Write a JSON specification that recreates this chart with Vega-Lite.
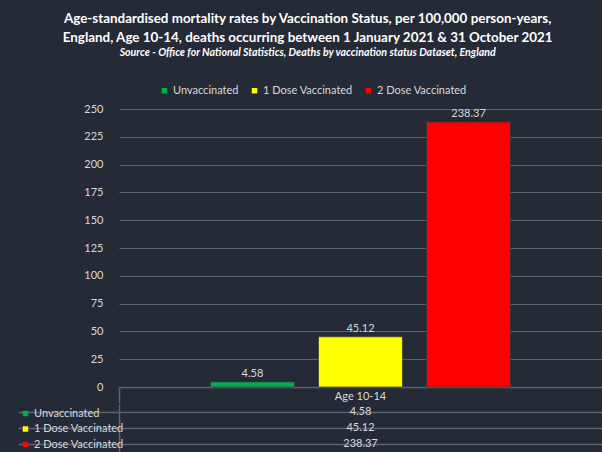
{
  "$schema": "https://vega.github.io/schema/vega-lite/v6.json",
  "width": 483,
  "height": 278,
  "autosize": {"type": "none"},
  "padding": {"left": 119, "top": 109, "right": 0, "bottom": 65},
  "background": "#242b36",
  "title": {
    "text": ["Age-standardised mortality rates by Vaccination Status, per 100,000 person-years,", "England, Age 10-14, deaths occurring between 1 January 2021 & 31 October 2021"],
    "subtitle": "Source - Office for National Statistics, Deaths by vaccination status Dataset, England",
    "color": "#ffffff",
    "subtitleColor": "#ffffff",
    "font": "Lato",
    "subtitleFont": "Lato",
    "fontSize": 13.4,
    "fontWeight": "bold",
    "subtitleFontSize": 10.6,
    "subtitleFontStyle": "italic",
    "subtitleFontWeight": "bold",
    "lineHeight": 19,
    "subtitlePadding": 4,
    "anchor": "middle",
    "frame": "bounds",
    "dx": -2,
    "offset": 26
  },
  "data": {
    "values": [
      {"age": "Age 10-14", "status": "Unvaccinated", "rate": 4.58},
      {"age": "Age 10-14", "status": "1 Dose Vaccinated", "rate": 45.12},
      {"age": "Age 10-14", "status": "2 Dose Vaccinated", "rate": 238.37}
    ]
  },
  "resolve": {"scale": {"y": "independent", "color": "independent"}},
  "layer": [
    {
      "encoding": {
        "x": {
          "field": "age", "type": "nominal",
          "scale": {"paddingInner": 0, "paddingOuter": 0},
          "axis": {
            "title": null, "labelAngle": 0, "domain": true, "domainColor": "#5b6370", "domainWidth": 1.5,
            "ticks": true, "bandPosition": 0, "tickSize": 16, "tickColor": "#5b6370", "tickWidth": 1.5,
            "labelPadding": -7, "labelBaseline": "middle",
            "labelColor": "#d9d9d9", "labelFontSize": 11, "labelFont": "Lato", "grid": false
          }
        },
        "xOffset": {
          "field": "status", "type": "nominal",
          "sort": ["Unvaccinated", "1 Dose Vaccinated", "2 Dose Vaccinated"],
          "scale": {"paddingInner": 0.2222, "paddingOuter": 0.847}
        },
        "y": {
          "field": "rate", "type": "quantitative",
          "scale": {"domain": [0, 250], "nice": false},
          "axis": {
            "title": null, "values": [0, 25, 50, 75, 100, 125, 150, 175, 200, 225, 250],
            "grid": true, "gridColor": "#5b6370", "domain": false, "ticks": false,
            "labelPadding": 16, "labelColor": "#d9d9d9", "labelFontSize": 11, "labelFont": "Lato"
          }
        }
      },
      "layer": [
        {
          "mark": {"type": "bar", "stroke": "#3a3a3a", "strokeWidth": 0.75},
          "encoding": {
            "color": {
              "field": "status", "type": "nominal",
              "sort": ["Unvaccinated", "1 Dose Vaccinated", "2 Dose Vaccinated"],
              "scale": {"domain": ["Unvaccinated", "1 Dose Vaccinated", "2 Dose Vaccinated"], "range": ["#00b050", "#ffff00", "#ff0000"]},
              "legend": {
                "title": null, "orient": "none", "direction": "horizontal", "legendX": 40, "legendY": -24,
                "symbolType": "square", "symbolSize": 30, "symbolStrokeWidth": 0, "labelOffset": 3,
                "labelColor": "#d9d9d9", "labelFontSize": 11, "labelFont": "Lato", "columnPadding": 10, "padding": 0
              }
            }
          }
        },
        {
          "mark": {"type": "text", "baseline": "bottom", "dy": -3, "color": "#d9d9d9", "fontSize": 11, "font": "Lato"},
          "encoding": {
            "text": {"field": "rate", "type": "quantitative", "format": ".2f"}
          }
        }
      ]
    },
    {
      "encoding": {
        "x": {"field": "age", "type": "nominal"}
      },
      "layer": [
        {
          "mark": {"type": "text", "baseline": "middle", "color": "#d9d9d9", "fontSize": 11, "font": "Lato"},
          "encoding": {
            "y": {
              "field": "status", "type": "nominal",
              "sort": ["Unvaccinated", "1 Dose Vaccinated", "2 Dose Vaccinated"],
              "scale": {"range": [295, 343], "paddingInner": 0, "paddingOuter": 0},
              "axis": {
                "orient": "left", "title": null, "labels": false, "grid": true, "gridColor": "#5b6370", "gridWidth": 1.5,
                "bandPosition": 0, "ticks": true, "tickSize": 101, "tickColor": "#5b6370", "tickWidth": 1.5,
                "domain": true, "domainColor": "#5b6370", "domainWidth": 1.5
              }
            },
            "text": {"field": "rate", "type": "quantitative", "format": ".2f"}
          }
        },
        {
          "mark": {"type": "text", "text": ""},
          "encoding": {
            "color": {
              "field": "status", "type": "nominal",
              "sort": ["Unvaccinated", "1 Dose Vaccinated", "2 Dose Vaccinated"],
              "scale": {"domain": ["Unvaccinated", "1 Dose Vaccinated", "2 Dose Vaccinated"], "range": ["#00b050", "#ffff00", "#ff0000"]},
              "legend": {
                "title": null, "orient": "none", "direction": "vertical", "legendX": -99, "legendY": 299,
                "symbolType": "square", "symbolSize": 30, "symbolStrokeWidth": 0, "labelOffset": 3,
                "labelColor": "#d9d9d9", "labelFontSize": 11, "labelFont": "Lato", "rowPadding": 3.5, "padding": 0
              }
            }
          }
        }
      ]
    }
  ],
  "config": {"view": {"stroke": null}, "font": "Lato"}
}
